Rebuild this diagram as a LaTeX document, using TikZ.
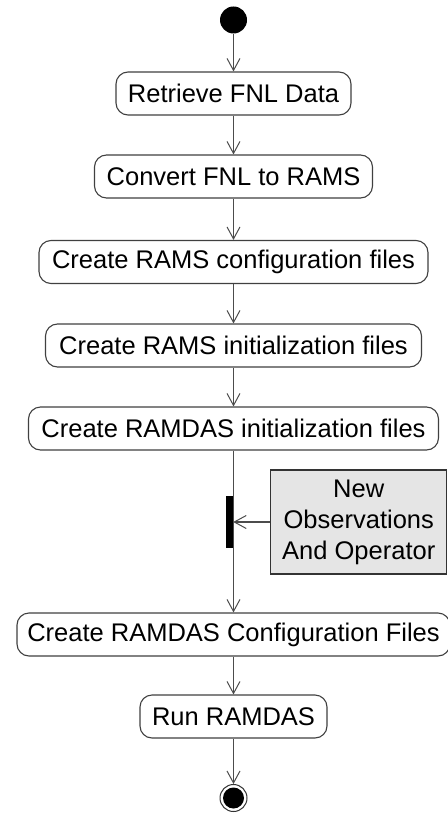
\documentclass[tikz,border=0pt]{standalone}
\usepackage{fontspec}
\setmainfont{Liberation Sans}
\usetikzlibrary{arrows.meta}
\begin{document}
\begin{tikzpicture}[x=1pt,y=-1pt,
  txt/.style={font=\fontsize{25.5}{31}\selectfont},
  act/.style={txt, draw=black!75, line width=1.1pt, rounded corners=12pt, fill=white,
    minimum height=43pt, inner xsep=5pt, inner ysep=0pt},
  flow/.style={draw=black!70, line width=1.2pt,
    -{Straight Barb[length=12pt,width=13pt,line width=1pt]}},
 ]
\useasboundingbox (0,0) rectangle (447,813);
\node[circle, fill=black, minimum size=27pt, inner sep=0pt] (start) at (233.5,20) {};
\node[act, minimum width=235pt] (a1) at (233.5,93.5) {Retrieve FNL Data};
\node[act, minimum width=278pt] (a2) at (233.5,176.5) {Convert FNL to RAMS};
\node[act, minimum width=389pt] (a3) at (233.5,262) {Create RAMS configuration files};
\node[act, minimum width=376pt] (a4) at (233.5,345.5) {Create RAMS initialization files};
\node[act, minimum width=410pt] (a5) at (233.5,428.5) {Create RAMDAS initialization files};
\node[fill=black, minimum width=7pt, minimum height=52pt, inner sep=0pt] (bar) at (229.5,522) {};
\node[txt, draw=black!80, line width=1.1pt, fill=black!10, minimum width=176pt, minimum height=104pt,
  align=center, inner sep=0pt] (obs) at (358.75,522) {New\\Observations\\And Operator};
\node[act, minimum width=433pt] (a6) at (233.5,634.5) {Create RAMDAS Configuration Files};
\node[act, minimum width=187pt] (a7) at (233.5,716.5) {Run RAMDAS};
\node[circle, draw=black!80, line width=1pt, minimum size=27pt, inner sep=0pt] (end) at (233.5,798) {};
\fill[black] (end.center) circle (10.5pt);
\draw[flow] (start) -- (a1);
\draw[flow] (a1) -- (a2);
\draw[flow] (a2) -- (a3);
\draw[flow] (a3) -- (a4);
\draw[flow] (a4) -- (a5);
\draw[flow] (a5) -- (a6);
\draw[flow] (obs.west) -- (bar.east);
\draw[flow] (a6) -- (a7);
\draw[flow] (a7) -- (end);
\end{tikzpicture}
\end{document}
